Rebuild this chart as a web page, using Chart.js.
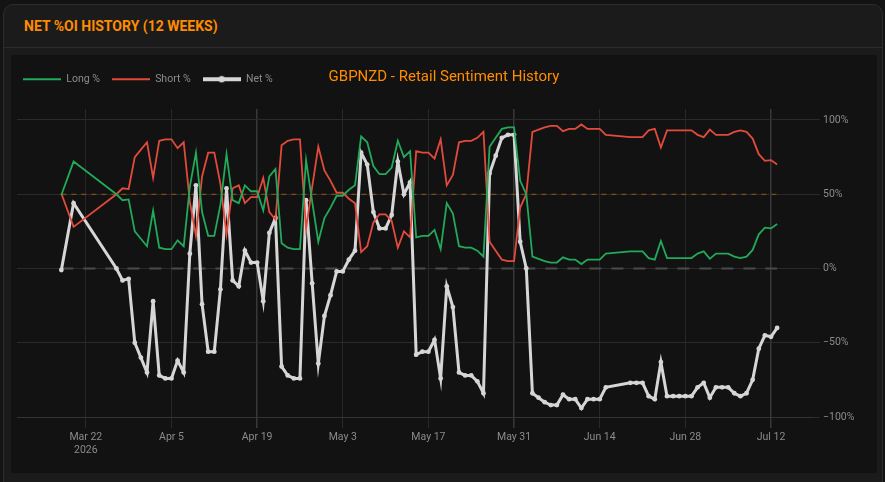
<!DOCTYPE html>
<html><head><meta charset="utf-8">
<script src="https://cdn.jsdelivr.net/npm/chart.js@4/dist/chart.umd.min.js"></script>
<style>
html,body{margin:0;padding:0;background:#131313;width:885px;height:482px;overflow:hidden;font-family:Roboto,"Noto Sans",sans-serif;}
.panel{position:absolute;left:3px;top:4px;width:880px;height:490px;background:#1b1b1b;border:1px solid #2c2c2c;border-radius:10px;box-sizing:border-box;}
.hdr{position:absolute;left:0;top:0;right:0;height:42px;border-bottom:1px solid #2c2c2c;}
.hdr h2{margin:0;position:absolute;left:20px;top:13px;font-size:14px;line-height:16px;font-weight:700;color:#ff8c00;}
.inner{position:absolute;left:7px;top:50px;width:866px;height:418px;background:#121212;}
canvas{display:block;}
</style></head>
<body>
<div class="panel">
  <div class="hdr"><h2>NET %OI HISTORY (12 WEEKS)</h2></div>
  <div class="inner"><canvas id="c" width="866" height="418" style="width:866px;height:418px"></canvas></div>
</div>
<script>
const chartTitle = 'GBPNZD - Retail Sentiment History';
const seriesLabels = ['Long %', 'Short %', 'Net %'];

const dates = [
 '2026-03-18','2026-03-20','2026-03-27','2026-03-28','2026-03-29','2026-03-30','2026-03-31',
 '2026-04-01','2026-04-02','2026-04-03','2026-04-04','2026-04-05','2026-04-06','2026-04-07','2026-04-08','2026-04-09','2026-04-10',
 '2026-04-11','2026-04-12','2026-04-13','2026-04-14','2026-04-15','2026-04-16','2026-04-17','2026-04-18','2026-04-19','2026-04-20',
 '2026-04-21','2026-04-22','2026-04-23','2026-04-24','2026-04-25','2026-04-26','2026-04-27','2026-04-28','2026-04-29','2026-04-30',
 '2026-05-01','2026-05-02','2026-05-03','2026-05-04','2026-05-05','2026-05-06','2026-05-07','2026-05-08','2026-05-09','2026-05-10',
 '2026-05-11','2026-05-12','2026-05-13','2026-05-14','2026-05-15','2026-05-16','2026-05-17','2026-05-18','2026-05-19','2026-05-20',
 '2026-05-21','2026-05-22','2026-05-23','2026-05-24','2026-05-25','2026-05-26','2026-05-27','2026-05-28','2026-05-29','2026-05-30',
 '2026-05-31','2026-06-01','2026-06-02','2026-06-03','2026-06-04','2026-06-05','2026-06-06','2026-06-07','2026-06-08','2026-06-09',
 '2026-06-10','2026-06-11','2026-06-12','2026-06-13','2026-06-14','2026-06-15','2026-06-19','2026-06-20','2026-06-21','2026-06-22',
 '2026-06-23','2026-06-24','2026-06-25','2026-06-26','2026-06-27','2026-06-28','2026-06-29','2026-06-30','2026-07-01','2026-07-02',
 '2026-07-03','2026-07-04','2026-07-05','2026-07-06','2026-07-07','2026-07-08','2026-07-09','2026-07-10','2026-07-11','2026-07-12',
 '2026-07-13'
];

const longPct = [
 49.5,72,50,46,46.5,25,20,
 15,39,14,13,13,19,15,55,78,38,
 22,22,43,77,46,44,56,52,52,39,
 62,67,17,14,13,13,73,45,18,34,
 41,49,49,53,56,89,85,69,63.5,63.5,
 68,86,75,79,21,22,22,26,13,44,
 37,15,14,14,12,8,82,88,94,95,
 95,59,50,8,6.5,5,4,4,7.5,6,
 6,3,6,6,6,10,11.5,11.5,11.5,7,
 6,18.5,7,7,7,7,7,10,11.5,6.5,
 10,10,10,8,7,8,12.5,23,27.5,27,
 30
];

const shortPct = [
 50.5,28,50,54,53.5,75,80,
 85,61,86,87,87,81,85,45,22,62,
 78,78,57,23,54,56,44,48,48,61,
 38,33,83,86,87,87,27,55,82,66,
 59,51,51,47,44,11,15,31,36.5,36.5,
 32,14,25,21,79,78,78,74,87,56,
 63,85,86,86,88,92,18,12,6,5,
 5,41,50,92,93.5,95,96,96,92.5,94,
 94,97,94,94,94,90,88.5,88.5,88.5,93,
 94,81.5,93,93,93,93,93,90,88.5,93.5,
 90,90,90,92,93,92,87.5,77,72.5,73,
 70
];

const netPct = [
 -1,44,0,-8,-7,-50,-60,
 -70,-22,-72,-74,-74,-62,-70,10,56,-24,
 -56,-56,-14,54,-8,-12,12,4,4,-22,
 24,34,-66,-72,-74,-74,46,-10,-64,-32,
 -18,-2,-2,6,12,78,70,38,27,27,
 36,72,50,58,-58,-56,-56,-48,-74,-12,
 -26,-70,-72,-72,-76,-84,64,76,88,90,
 90,18,0,-84,-87,-90,-92,-92,-85,-88,
 -88,-94,-88,-88,-88,-80,-77,-77,-77,-86,
 -88,-63,-86,-86,-86,-86,-86,-80,-77,-87,
 -80,-80,-80,-84,-86,-84,-75,-54,-45,-46,
 -40
];

const xTickDates = ['2026-03-22','2026-04-05','2026-04-19','2026-05-03','2026-05-17','2026-05-31','2026-06-14','2026-06-28','2026-07-12'];
const xTickLabels = ['Mar 22','Apr 5','Apr 19','May 3','May 17','May 31','Jun 14','Jun 28','Jul 12'];
const xYearLabel = '2026';
const yTickValues = [100, 50, 0, -50, -100];
const neutralLevel = 50;
const zeroLevel = 0;

const COLORS = { long: '#22a95a', short: '#e24b3b', net: '#d6d6d6', text: '#8b8b8b', title: '#ff8c00' };
const FONT = 'Roboto';

const BASE = Date.UTC(2026, 2, 22);
const toDay = s => { const [y, m, d] = s.split('-').map(Number); return (Date.UTC(y, m - 1, d) - BASE) / 864e5; };
const xs = dates.map(toDay);
const pts = arr => arr.map((v, i) => ({ x: xs[i], y: v }));

function legendIcon(color, lw, dot) {
  const c = document.createElement('canvas');
  c.width = 38; c.height = 8;
  const g = c.getContext('2d');
  g.strokeStyle = color; g.lineWidth = lw;
  g.beginPath(); g.moveTo(0, 4); g.lineTo(38, 4); g.stroke();
  if (dot) { g.fillStyle = color; g.beginPath(); g.arc(19, 4, 3.2, 0, Math.PI * 2); g.fill(); }
  return c;
}

const legendSpacer = {
  id: 'legendSpacer',
  beforeInit(chart) {
    const orig = chart.legend.fit;
    chart.legend.fit = function () { orig.call(this); this.height = 47; };
  }
};

const refLines = {
  id: 'refLines',
  beforeDatasetsDraw(chart) {
    const { ctx, scales: { x, y } } = chart;
    const x0 = x.getPixelForValue(xs[0]);
    const x1 = x.getPixelForValue(xs[xs.length - 1]);
    ctx.save();
    ctx.lineWidth = 2; ctx.strokeStyle = '#4a4a4a'; ctx.setLineDash([12, 10]);
    let yy = y.getPixelForValue(zeroLevel);
    ctx.beginPath(); ctx.moveTo(x0, yy); ctx.lineTo(x1, yy); ctx.stroke();
    ctx.lineWidth = 1; ctx.strokeStyle = 'rgba(255,140,0,0.5)'; ctx.setLineDash([5, 5]);
    yy = y.getPixelForValue(neutralLevel);
    ctx.beginPath(); ctx.moveTo(x0, yy); ctx.lineTo(x1, yy); ctx.stroke();
    ctx.restore();
  }
};

const centerTitle = {
  id: 'centerTitle',
  afterDraw(chart) {
    const lg = chart.legend;
    const hb = lg.legendHitBoxes && lg.legendHitBoxes[0];
    const yc = hb ? hb.top + hb.height / 2 - 2 : 22;
    const ctx = chart.ctx;
    ctx.save();
    ctx.font = '15px ' + FONT;
    ctx.fillStyle = COLORS.title;
    ctx.textAlign = 'center'; ctx.textBaseline = 'middle';
    ctx.fillText(chartTitle, chart.width / 2, yc);
    ctx.restore();
  }
};

new Chart(document.getElementById('c'), {
  type: 'line',
  data: {
    datasets: [
      { label: seriesLabels[0], data: pts(longPct), borderColor: COLORS.long, backgroundColor: COLORS.long, borderWidth: 1.8, pointRadius: 0, tension: 0, yAxisID: 'y' },
      { label: seriesLabels[1], data: pts(shortPct), borderColor: COLORS.short, backgroundColor: COLORS.short, borderWidth: 1.8, pointRadius: 0, tension: 0, yAxisID: 'y' },
      { label: seriesLabels[2], data: pts(netPct), borderColor: COLORS.net, backgroundColor: COLORS.net, borderWidth: 3, pointRadius: 2.4, pointBorderWidth: 0, pointBackgroundColor: COLORS.net, tension: 0, yAxisID: 'y' }
    ]
  },
  options: {
    responsive: false,
    animation: false,
    devicePixelRatio: 1,
    layout: { padding: { top: 7, right: 0, bottom: 0, left: 0 } },
    plugins: {
      title: { display: false },
      tooltip: { enabled: false },
      legend: {
        position: 'top', align: 'start',
        labels: {
          usePointStyle: true, pointStyleWidth: 38, boxHeight: 8, padding: 12,
          color: COLORS.text, font: { family: FONT, size: 10.5 },
          generateLabels(chart) {
            return chart.data.datasets.map((ds, i) => ({
              text: ds.label, datasetIndex: i, hidden: false, fontColor: COLORS.text,
              fillStyle: ds.borderColor, strokeStyle: ds.borderColor, lineWidth: 0,
              pointStyle: legendIcon(ds.borderColor, i === 2 ? 4 : 2, i === 2)
            }));
          }
        }
      }
    },
    scales: {
      yL: {
        type: 'linear', position: 'left', display: true,
        grid: { display: false }, border: { display: false }, ticks: { display: false },
        afterFit(s) { s.width = 6; }
      },
      x: {
        type: 'linear', min: -11.25, max: 118.7,
        afterBuildTicks(s) { s.ticks = xTickDates.map(d => ({ value: toDay(d) })); },
        afterFit(s) { s.height = 56; },
        grid: {
          color: c => (c.index % 3 === 2 ? '#383838' : '#282828'),
          lineWidth: c => (c.index % 3 === 2 ? 1.5 : 1),
          tickLength: 11
        },
        border: { display: true, color: '#333333', width: 1 },
        ticks: {
          autoSkip: false, maxRotation: 0, padding: 3, color: COLORS.text,
          font: { family: FONT, size: 10.5 },
          callback: (v, i) => (i === 0 ? [xTickLabels[0], xYearLabel] : xTickLabels[i])
        }
      },
      y: {
        type: 'linear', position: 'right', min: -100, max: 107.4,
        afterBuildTicks(s) { s.ticks = yTickValues.map(v => ({ value: v })); },
        afterFit(s) { s.width = 65; },
        grid: { color: '#2a2a2a', lineWidth: 1, tickLength: 8 },
        border: { display: false },
        ticks: {
          padding: 3, color: COLORS.text, font: { family: FONT, size: 10.5 },
          callback: v => (v < 0 ? '\u2212' : '') + Math.abs(v) + '%'
        }
      }
    }
  },
  plugins: [legendSpacer, refLines, centerTitle]
});
</script>
</body></html>
